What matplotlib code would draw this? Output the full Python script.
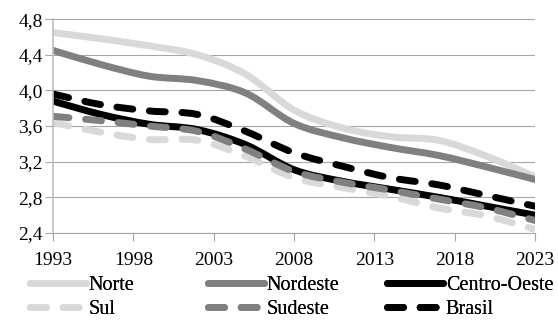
import matplotlib
matplotlib.use("Agg")
import numpy as np
import matplotlib.pyplot as plt
from matplotlib.path import Path
from matplotlib.patches import PathPatch
from matplotlib.lines import Line2D

plt.rcParams['font.family'] = ['Liberation Serif', 'DejaVu Serif']

years = [1993, 1996, 1999, 2002, 2005, 2008, 2011, 2014, 2017, 2020, 2023]

norte = [4.65, 4.58, 4.50, 4.40, 4.18, 3.78, 3.58, 3.48, 3.44, 3.26, 3.03]
nordeste = [4.45, 4.29, 4.16, 4.11, 3.97, 3.63, 3.47, 3.36, 3.27, 3.14, 3.00]
centro_oeste = [3.88, 3.73, 3.62, 3.56, 3.39, 3.11, 2.98, 2.89, 2.80, 2.70, 2.60]
sul = [3.64, 3.53, 3.45, 3.44, 3.26, 3.02, 2.91, 2.81, 2.68, 2.59, 2.44]
sudeste = [3.71, 3.66, 3.60, 3.54, 3.34, 3.09, 2.97, 2.88, 2.78, 2.68, 2.54]
brasil = [3.96, 3.84, 3.77, 3.73, 3.54, 3.30, 3.15, 3.02, 2.94, 2.82, 2.70]

x_ticks = [1993, 1998, 2003, 2008, 2013, 2018, 2023]
y_ticks = [2.4, 2.8, 3.2, 3.6, 4.0, 4.4, 4.8]
y_labels = ['2,4', '2,8', '3,2', '3,6', '4,0', '4,4', '4,8']

LIGHT = '#d9d9d9'
MID = '#808080'
DARK = '#000000'
DASH = (0, (2.3, 2.4))

series = [
    ('Norte', norte, LIGHT, '-'),
    ('Nordeste', nordeste, MID, '-'),
    ('Centro-Oeste', centro_oeste, DARK, '-'),
    ('Sul', sul, LIGHT, DASH),
    ('Sudeste', sudeste, MID, DASH),
    ('Brasil', brasil, DARK, DASH),
]


def smooth_path(xs, ys):
    # Catmull-Rom segments written as cubic Bezier curves (spreadsheet-style smoothing)
    pts = np.column_stack([xs, ys]).astype(float)
    ext = np.vstack([pts[0], pts, pts[-1]])
    verts = [pts[0]]
    codes = [Path.MOVETO]
    for i in range(1, len(ext) - 2):
        p0, p1, p2, p3 = ext[i - 1], ext[i], ext[i + 1], ext[i + 2]
        verts += [p1 + (p2 - p0) / 6, p2 - (p3 - p1) / 6, p2]
        codes += [Path.CURVE4] * 3
    return Path(verts, codes)


fig = plt.figure(figsize=(5.58, 3.2), dpi=100)
ax = fig.add_axes([0.095, 0.272, 0.864, 0.668])

lw = 5.0
handles = []
for name, vals, color, ls in series:
    patch = PathPatch(smooth_path(years, vals), facecolor='none', edgecolor=color,
                      linewidth=lw, linestyle=ls, capstyle='round', joinstyle='round')
    ax.add_patch(patch)
    handles.append(Line2D([], [], color=color, linewidth=lw, linestyle=ls,
                          dash_capstyle='round', solid_capstyle='round', label=name))

ax.set_xlim(1993, 2023)
ax.set_ylim(2.4, 4.8)
ax.set_xticks(x_ticks)
ax.set_yticks(y_ticks)
ax.set_yticklabels(y_labels)
ax.tick_params(axis='both', labelsize=14, length=5.5, width=0.8, color='#a6a6a6')
ax.tick_params(axis='x', pad=8)
ax.tick_params(axis='y', pad=2)
ax.grid(axis='y', color='#a6a6a6', linewidth=0.8)
ax.set_axisbelow(True)
for side in ['top', 'right']:
    ax.spines[side].set_visible(False)
ax.spines['left'].set_color('#bfbfbf')
ax.spines['bottom'].set_color('#a6a6a6')
ax.spines['left'].set_linewidth(1.2)
ax.spines['bottom'].set_linewidth(0.8)

# legend: three fixed-width columns, two rows
col_x = [30 / 558, 208 / 558, 387 / 558]
for col in range(3):
    leg = fig.legend(handles=[handles[col], handles[col + 3]], loc='upper left',
                     bbox_to_anchor=(col_x[col], 0.138), ncol=1, frameon=False,
                     fontsize=14.5, handlelength=2.8, handletextpad=0.12,
                     labelspacing=0.25, borderaxespad=0, borderpad=0)
    fig.add_artist(leg)

fig.savefig('out.png', dpi=100)
